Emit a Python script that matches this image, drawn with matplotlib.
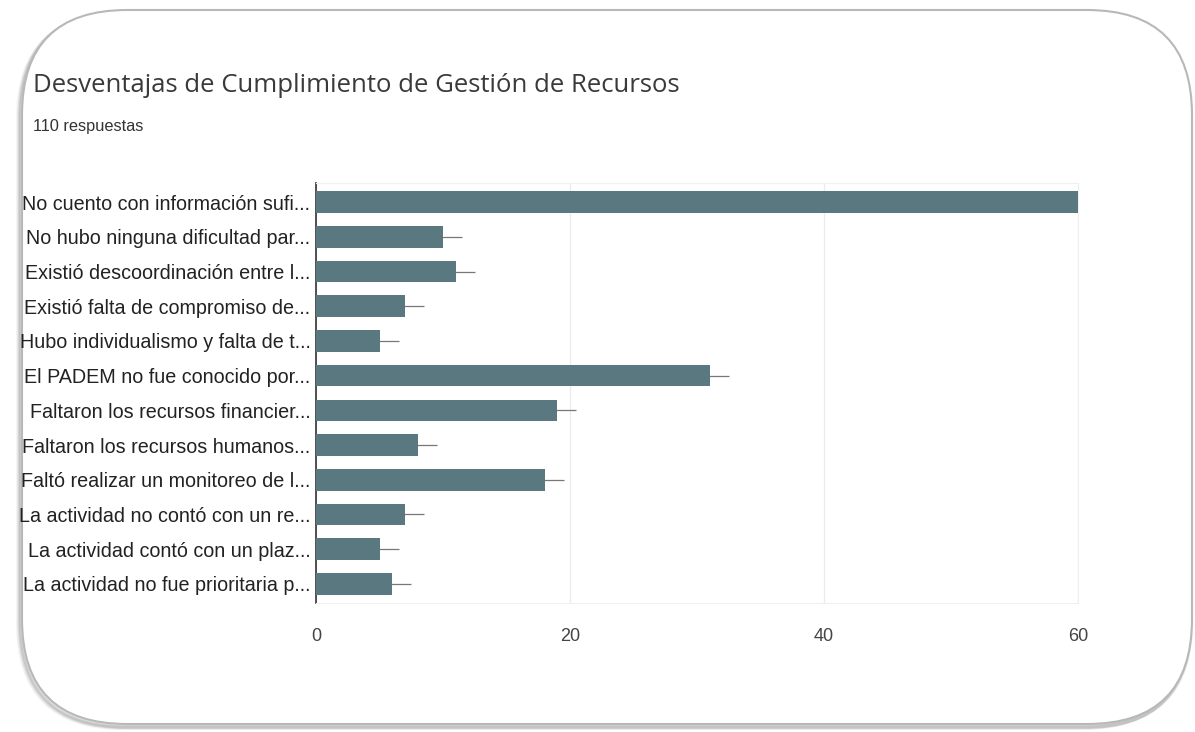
"""Horizontal bar chart of survey answers inside a rounded card."""

import matplotlib.pyplot as plt
from matplotlib.patches import FancyBboxPatch

TITLE = 'Desventajas de Cumplimiento de Gestión de Recursos'
SUBTITLE = '110 respuestas'

labels = [
    'No cuento con información sufi...',
    'No hubo ninguna dificultad par...',
    'Existió descoordinación entre l...',
    'Existió falta de compromiso de...',
    'Hubo individualismo y falta de t...',
    'El PADEM no fue conocido por...',
    'Faltaron los recursos financier...',
    'Faltaron los recursos humanos...',
    'Faltó realizar un monitoreo de l...',
    'La actividad no contó con un re...',
    'La actividad contó con un plaz...',
    'La actividad no fue prioritaria p...',
]
counts = [60, 10, 11, 7, 5, 31, 19, 8, 18, 7, 5, 6]
x_ticks = [0, 20, 40, 60]

BAR_COLOR = '#5a7880'
LABEL_FONT = 'Liberation Sans'
W, H = 1195, 732

fig = plt.figure(figsize=(W / 100, H / 100), dpi=100)
fig.patch.set_facecolor('white')

# card background with a soft shadow, drawn in pixel coordinates
bg = fig.add_axes([0, 0, 1, 1])
bg.set_xlim(0, W)
bg.set_ylim(H, 0)
bg.axis('off')
for i, a in enumerate([0.04, 0.05, 0.07, 0.09]):
    off = 4 - i
    bg.add_patch(FancyBboxPatch(
        (22 - off, 12 + off * 0.5), 1170, 714,
        boxstyle='round,pad=0,rounding_size=105',
        facecolor='none', edgecolor='#000000', lw=3, alpha=a))
bg.add_patch(FancyBboxPatch(
    (22, 10), 1170, 714, boxstyle='round,pad=0,rounding_size=105',
    facecolor='white', edgecolor='#b8b8b8', lw=1.5))

fig.text(33 / W, 1 - 86 / H, TITLE, fontsize=18.5, color='#3a3a3a',
         family='Open Sans', va='center', ha='left')
fig.text(33 / W, 1 - 127 / H, SUBTITLE, fontsize=11.8, color='#333333',
         family=LABEL_FONT, va='center', ha='left')

# main chart area
ax = fig.add_axes([316 / W, 1 - 603 / H, (1078 - 316) / W, (603 - 183) / H])
ax.patch.set_alpha(0)
ypos = list(range(len(labels)))
ax.errorbar(counts, ypos, xerr=1.5, fmt='none', ecolor='#777777',
            elinewidth=0.9, capsize=0, zorder=2)
ax.barh(ypos, counts, height=0.62, color=BAR_COLOR, zorder=3)
ax.set_xlim(0, 60)
ax.set_ylim(len(labels) - 0.45, -0.55)
ax.set_yticks(ypos)
ax.set_yticklabels(labels, family=LABEL_FONT, fontsize=14.2,
                   color='#222222')
ax.set_xticks(x_ticks)
ax.set_xticklabels([str(t) for t in x_ticks], family=LABEL_FONT,
                   fontsize=13, color='#444444')
ax.tick_params(axis='both', length=0)
ax.tick_params(axis='y', pad=4)
ax.tick_params(axis='x', pad=18)
ax.grid(axis='x', color='#ececec', lw=1, zorder=0)
for side in ['top', 'right', 'bottom']:
    ax.spines[side].set_color('#f0f0f0')
ax.spines['left'].set_color('#333333')
ax.spines['left'].set_linewidth(1.2)

fig.savefig('out.png', dpi=100)
